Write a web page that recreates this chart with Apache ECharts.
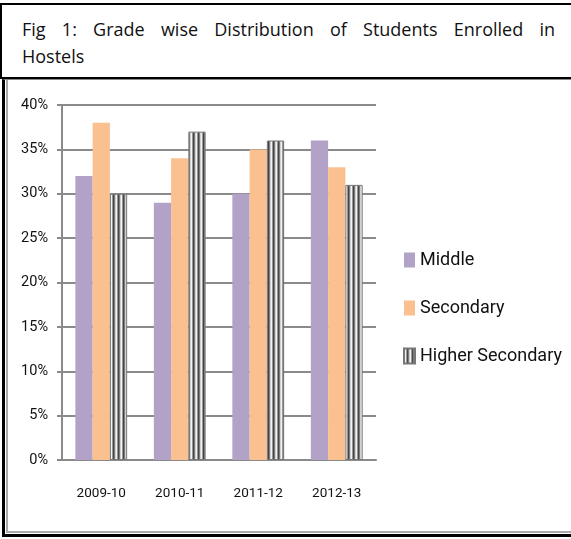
<!DOCTYPE html>
<html>
<head>
<meta charset="utf-8">
<script src="https://cdn.jsdelivr.net/npm/echarts@6/dist/echarts.min.js"></script>
<style>
  body { margin: 0; background: #fff; }
  .wrap { position: relative; width: 571px; height: 539px; overflow: hidden; }
  .titlebox {
    position: absolute; left: 0; top: 3px; width: 620px; height: 76px;
    box-sizing: border-box; border: 2px solid #000;
    padding: 11px 0 0 20px;
    font-family: "Open Sans", "Noto Sans", sans-serif; font-size: 18px; line-height: 27px;
    color: #111;
  }
  .titlebox .l1 { width: 533px; text-align: justify; text-align-last: justify; }
  .chartbox {
    position: absolute; left: 2px; top: 79px; width: 620px; height: 458px;
    box-sizing: border-box; border-left: 3px solid #000; border-bottom: 3px solid #000;
    border-top: 1px solid #888;
  }
  .chartbox .inner {
    position: absolute; left: 1px; top: 0; right: 0; bottom: 1px;
    border-left: 2px solid #aaa; border-bottom: 2px solid #aaa;
  }
  #main { position: absolute; left: 0; top: 0; width: 571px; height: 539px; }
</style>
</head>
<body>
<div class="wrap">
  <div class="titlebox"><div class="l1">Fig 1: Grade wise Distribution of Students Enrolled in</div><div>Hostels</div></div>
  <div class="chartbox"><div class="inner"></div></div>
  <div id="main"></div>
</div>
<script>
const years = ['2009-10', '2010-11', '2011-12', '2012-13'];
const middle = [32, 29, 30, 36];
const secondary = [38, 34, 35, 33];
const higherSecondary = [30, 37, 36, 31];

// vertical stripes for Higher Secondary
const stripeColors = ['#cfcfcf', '#f4f4f4', '#979797', '#444444', '#7c7c7c'];
const stripe = document.createElement('canvas');
stripe.width = stripeColors.length;
stripe.height = 4;
const ctx = stripe.getContext('2d');
stripeColors.forEach((c, i) => {
  ctx.fillStyle = c;
  ctx.fillRect(i, 0, 1, 4);
});

const font = 'Roboto, "Liberation Sans", sans-serif';
const myChart = echarts.init(document.getElementById('main'));
myChart.setOption({
  animation: false,
  grid: { left: 62, right: 195, top: 105, bottom: 79 },
  legend: {
    orient: 'vertical',
    left: 398,
    top: 246,
    itemGap: 30,
    itemWidth: 11,
    itemHeight: 15,
    icon: 'rect',
    textStyle: { fontFamily: font, fontSize: 18, color: '#111' },
    data: ['Middle', 'Secondary', 'Higher Secondary']
  },
  xAxis: {
    type: 'category',
    data: years,
    axisLine: { lineStyle: { color: '#8a8a8a', width: 2 } },
    axisTick: { length: 8, lineStyle: { color: '#8a8a8a', width: 2 } },
    axisLabel: { fontFamily: font, fontSize: 13.5, color: '#111', margin: 27 }
  },
  yAxis: {
    type: 'value',
    min: 0,
    max: 40,
    interval: 5,
    axisLine: { show: true, lineStyle: { color: '#8a8a8a', width: 2 } },
    axisTick: { show: true, length: 5, lineStyle: { color: '#8a8a8a', width: 2 } },
    axisLabel: { fontFamily: font, fontSize: 14.5, color: '#111', margin: 14, formatter: '{value}%' },
    splitLine: { lineStyle: { color: '#8a8a8a', width: 2 } }
  },
  series: [
    {
      name: 'Middle', type: 'bar', data: middle, barGap: '0%', barCategoryGap: '34%',
      itemStyle: { color: '#b3a2c7' }
    },
    {
      name: 'Secondary', type: 'bar', data: secondary,
      itemStyle: { color: '#fac090' }
    },
    {
      name: 'Higher Secondary', type: 'bar', data: higherSecondary,
      itemStyle: { color: { image: stripe, repeat: 'repeat' }, borderColor: '#777', borderWidth: 1 }
    }
  ]
});
</script>
</body>
</html>
